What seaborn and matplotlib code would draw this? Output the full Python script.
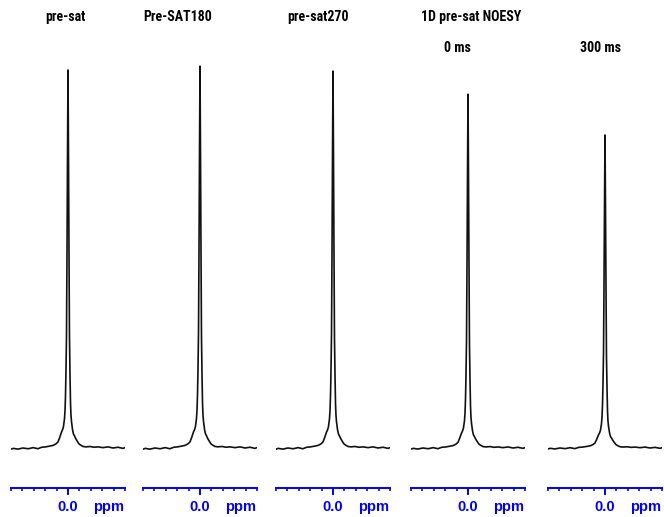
import matplotlib
matplotlib.use("Agg")
import matplotlib.pyplot as plt
import matplotlib.transforms as mtransforms
from matplotlib import font_manager as fm
import numpy as np
import pandas as pd
import seaborn as sns

# ---- data -----------------------------------------------------------------
titles = ["pre-sat", "Pre-SAT180", "pre-sat270"]
group_title = "1D pre-sat NOESY"
sub_titles = ["0 ms", "300 ms"]
# peak heights (relative units, pre-sat = 100)
peak_heights = [100.0, 101.0, 99.7, 93.6, 82.8]
# common water-peak lineshape (ppm offset, % of peak)
shape_ppm = [0.500, 0.480, 0.440, 0.395, 0.350, 0.305, 0.265, 0.230, 0.195,
             0.160, 0.130, 0.105, 0.088, 0.075, 0.066, 0.057, 0.048, 0.040,
             0.031, 0.026, 0.022, 0.018, 0.013, 0.009, 0.004, 0.000,
             -0.004, -0.009, -0.013, -0.018, -0.022, -0.026, -0.031, -0.040,
             -0.048, -0.057, -0.066, -0.079, -0.096, -0.114, -0.132, -0.158,
             -0.193, -0.228, -0.263, -0.307, -0.351, -0.395, -0.439, -0.482,
             -0.500]
shape_pct = [-0.3, -0.1, -0.3, 0.0, -0.2, 0.1, -0.2, 0.2, 0.3,
             0.5, 0.7, 1.1, 1.6, 2.6, 3.4, 4.2, 4.8, 5.6,
             7.7, 10.0, 13.8, 19.8, 30.4, 50.3, 79.4, 100.0,
             79.4, 50.3, 29.1, 18.5, 11.9, 8.7, 6.9, 4.8,
             3.7, 3.2, 2.6, 1.9, 1.1, 0.7, 0.4, 0.3,
             0.4, 0.2, 0.3, 0.1, 0.3, 0.0, 0.2, -0.1,
             0.1]
ticks_minor = [-0.5, -0.4, -0.3, -0.2, -0.1, 0.1, 0.2, 0.3, 0.4, 0.5]
tick_major = [0.0]
tick_label = ["0.0"]
unit = "ppm"

# ---- layout (pixels) ------------------------------------------------------
W, H = 664, 517
panel_left = [11, 143, 276, 411, 548]
panel_w = 114
axis_y = 488
top_y = 60

sns.set_style("white")
plt.rcParams["font.family"] = ["Liberation Sans", "DejaVu Sans"]


def pick_condensed():
    for fam in ["Liberation Sans Narrow", "Arial Narrow", "Roboto Condensed",
                "Open Sans Condensed", "Noto Sans Condensed"]:
        try:
            fm.findfont(fm.FontProperties(family=fam, weight="bold"),
                        fallback_to_default=False)
            return dict(family=[fam, "DejaVu Sans"]), 10.0
        except Exception:
            pass
    for fam in ["DejaVu Sans", "Noto Sans", "Open Sans", "Roboto"]:
        try:
            p = fm.findfont(fm.FontProperties(family=fam, weight="bold",
                                              stretch="condensed"),
                            fallback_to_default=False)
            if "ondensed" in p:
                return dict(family=[fam], fontstretch="condensed"), 10.0
        except Exception:
            pass
    return dict(family=["Liberation Sans", "DejaVu Sans"]), 8.6


tprops, tsize = pick_condensed()

fig = plt.figure(figsize=(W / 100, H / 100), dpi=100)

blue = "#0000ff"
for i, left in enumerate(panel_left):
    ax = fig.add_axes([left / W, (H - axis_y) / H, panel_w / W, (axis_y - top_y) / H])
    df = pd.DataFrame({"ppm": shape_ppm,
                       "I": [v * peak_heights[i] / 100.0 for v in shape_pct]})
    sns.lineplot(data=df, x="ppm", y="I", ax=ax, color="#111111", lw=1.2,
                 estimator=None, sort=True)
    ax.set_xlim(0.5, -0.5)
    ax.set_ylim(-40 / 3.78, 388 / 3.78)
    for s in ["left", "top", "right"]:
        ax.spines[s].set_visible(False)
    ax.spines["bottom"].set_color(blue)
    ax.spines["bottom"].set_linewidth(1.4)
    ax.set_yticks([])
    ax.set_xticks(tick_major)
    ax.set_xticklabels(tick_label)
    ax.set_xticks(ticks_minor, minor=True)
    ax.tick_params(axis="x", which="both", bottom=True)
    ax.tick_params(axis="x", which="major", direction="out", length=5, width=1.4,
                   color=blue, labelcolor=blue, pad=3.5, labelsize=10.5)
    ax.tick_params(axis="x", which="minor", direction="out", length=2.5, width=1.2,
                   color=blue)
    for lab in ax.get_xticklabels():
        lab.set_fontweight("bold")
    ax.set_xlabel("")
    ax.set_ylabel("")
    trans = mtransforms.offset_copy(ax.get_xaxis_transform(), fig=fig,
                                    x=0, y=-8.5, units="points")
    ax.text(-0.355, 0, unit, transform=trans, color=blue, fontsize=10.5,
            fontweight="bold", ha="center", va="top")
    ax.patch.set_alpha(0)

tfont = dict(fontweight="bold", fontsize=tsize, color="black",
             ha="center", va="center", **tprops)
title_x = [65, 178, 318]
for x, t in zip(title_x, titles):
    fig.text(x / W, 1 - 17 / H, t, **tfont)
fig.text(471 / W, 1 - 17 / H, group_title, **tfont)
fig.text(457 / W, 1 - 48 / H, sub_titles[0], **tfont)
fig.text(601 / W, 1 - 48 / H, sub_titles[1], **tfont)

fig.savefig("out.png", dpi=100)
